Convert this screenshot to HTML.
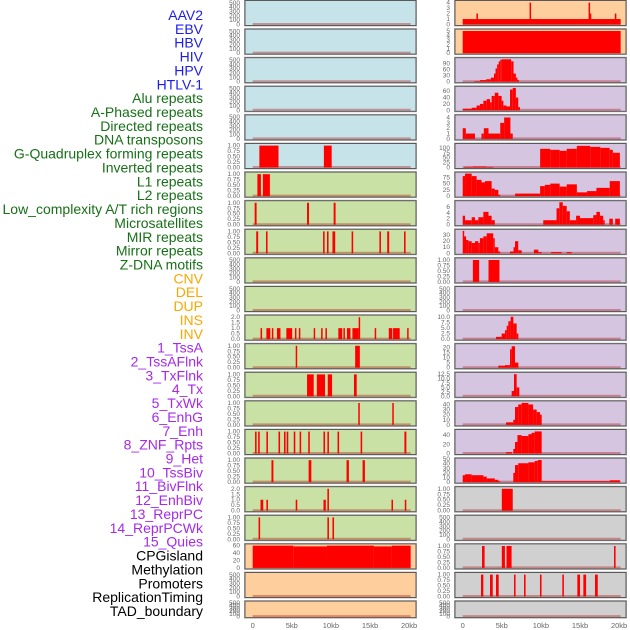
<!DOCTYPE html>
<html><head><meta charset="utf-8">
<style>
html,body{margin:0;padding:0;background:#fff;}
svg{display:block;}
</style></head>
<body>
<svg id="chart" width="630" height="630" viewBox="0 0 630 630" xmlns="http://www.w3.org/2000/svg" font-family="Liberation Sans, sans-serif"></svg>
<script>
// ---------- data ----------
const trackNames = ["AAV2","EBV","HBV","HIV","HPV","HTLV-1","Alu repeats","A-Phased repeats","Directed repeats","DNA transposons","G-Quadruplex forming repeats","Inverted repeats","L1 repeats","L2 repeats","Low_complexity A/T rich regions","Microsatellites","MIR repeats","Mirror repeats","Z-DNA motifs","CNV","DEL","DUP","INS","INV","1_TssA","2_TssAFlnk","3_TxFlnk","4_Tx","5_TxWk","6_EnhG","7_Enh","8_ZNF_Rpts","9_Het","10_TssBiv","11_BivFlnk","12_EnhBiv","13_ReprPC","14_ReprPCWk","15_Quies","CPGisland","Methylation","Promoters","ReplicationTiming","TAD_boundary"];
const labelGroups = [6,13,5,15,5];
const groupColors = ["#1c1cf0","#177017","#ffa500","#a52aea","#000000"];
const xTicks = [0,5,10,15,20];
const xTickLabels = ["0","5kb","10kb","15kb","20kb"];
const dataEnd = 20.2;

// tick sets
const tEmpty = [0,100,200,300,400,500];
const tUnit = [0,0.25,0.5,0.75,1];
const tTwo = [0,0.5,1,1.5,2];

// segments [start_kb, end_kb, value]
const segHTLV = [[0.85,3.3,1],[9.1,10.1,1]];
const segAlu = [[0.6,1.05,1],[1.3,2.2,1]];
const segAPhased = [[0.25,0.5,1],[6.95,7.2,1],[10.35,10.6,1]];
const segDirected = [[0.45,0.7,1],[1.7,1.9,1],[9.0,9.2,1],[9.5,9.7,1],[10.2,10.55,1],[12.65,12.85,1],[16.2,16.4,1],[17.2,17.45,1],[19.35,19.55,1]];
const segInverted = [[1.0,1.2,1],[1.75,2.25,1],[2.45,2.6,1],[3.1,3.55,1],[4.3,5.05,1],[5.4,5.55,1],[5.9,6.05,1],[7.8,7.95,1],[8.75,8.9,1],[9.3,9.45,1],[10.95,11.45,1],[11.6,11.75,1],[12.05,12.5,1],[12.75,13.55,1],[13.55,13.7,2],[15.6,15.75,1],[17.4,17.85,1],[17.95,18.8,1],[19.75,19.9,1]];
const segL1 = [[5.5,5.65,1],[13.1,13.7,1]];
const segL2 = [[6.95,7.8,1],[8.2,9.25,1],[9.6,10.15,1],[12.95,13.3,1]];
const segLowComp = [[13.5,13.65,1],[17.85,18.0,1]];
const segMicro = [[0.3,0.5,1],[0.7,0.9,1],[1.75,1.95,1],[3.3,3.5,1],[4.0,4.2,1],[4.35,4.55,1],[5.25,5.45,1],[6.0,6.2,1],[7.1,7.3,1],[9.05,9.25,1],[9.55,9.75,1],[10.85,11.05,1],[13.8,14.0,1],[19.4,19.65,1]];
const segMIR = [[2.4,2.65,1],[7.15,7.5,1],[12.0,12.3,1],[14.05,14.35,1]];
const segMirror = [[1.0,1.35,1],[1.75,1.95,1],[5.5,5.7,1],[9.05,9.35,1],[9.55,9.75,2],[17.75,17.9,1],[19.45,19.6,1]];
const segZDNA = [[0.75,0.95,1],[9.55,9.75,1],[10.2,10.4,1]];
const segCNV = [[0,5.2,60],[5.2,9.5,58],[9.5,15.5,60],[15.5,17.8,58],[17.8,20.2,60]];
const segINS = [[0,20.2,1],[1.75,1.95,2],[8.55,8.7,4],[16.1,16.25,4],[16.25,16.4,2],[19.45,19.65,2]];
const segINV = [[0,20.2,5]];
const segTssA = [[1.5,2.2,3],[2.2,3.0,8],[3.0,3.6,12],[3.6,4.0,20],[4.0,4.2,40],[4.2,4.4,65],[4.4,4.6,85],[4.6,4.8,100],[4.8,5.0,108],[5.0,6.2,110],[6.2,6.5,100],[6.5,6.8,40],[6.8,7.0,20],[7.0,7.2,8]];
const segTssAFlnk = [[0,1.15,5],[1.15,1.78,8],[1.78,2.2,15],[2.2,2.64,20],[2.64,3.07,30],[3.07,3.5,35],[3.5,3.7,25],[3.7,4.1,45],[4.1,4.56,55],[4.56,4.98,45],[4.98,5.2,30],[5.2,5.6,15],[5.6,6.05,12],[6.05,6.4,65],[6.4,6.8,70],[6.8,7.1,40],[7.1,7.33,10]];
const segTxFlnk = [[0,0.4,2],[0.4,1.57,1],[2.4,2.7,1],[2.7,3.3,2],[3.3,4.8,1],[4.8,5.3,3],[5.3,6.1,4],[6.1,6.4,1]];
const segTx = [[0.2,1.3,3],[1.3,3.0,5],[3.0,3.9,3],[9.9,11.2,95],[11.2,12.4,90],[12.4,13.3,85],[13.3,14.6,95],[14.6,16.3,110],[16.3,17.6,105],[17.6,18.8,100],[18.8,19.2,90],[19.2,20.1,75]];
const segTxWk = [[0,0.3,80],[0.3,1.15,90],[1.15,1.78,80],[1.78,2.4,65],[2.4,2.85,55],[2.85,3.7,60],[3.7,4.1,30],[4.1,4.56,25],[4.56,4.8,5],[6.7,9.9,10],[9.9,10.5,40],[10.5,11.2,45],[11.2,12.4,50],[12.4,13.3,38],[13.3,14.6,47],[14.6,15.9,15],[15.9,17.1,20],[17.1,18.8,33],[18.8,20.1,60]];
const segEnhG = [[0,0.3,3],[0.3,1.15,1.5],[1.15,1.57,2.5],[1.57,2.0,1.5],[2.0,2.64,2.5],[2.64,3.3,4.3],[3.3,3.7,3],[3.7,4.1,1.5],[10.3,12.0,1.5],[12.0,12.36,5.5],[12.36,12.8,7.5],[12.8,13.3,6.3],[13.3,13.7,4.5],[13.7,14.5,1.5],[14.5,15.0,3],[15.0,16.7,2.2],[16.7,17.1,3.2],[17.1,17.55,4.3],[17.55,17.97,3],[17.97,18.1,1.5],[18.75,19.2,2],[19.5,20.1,2]];
const segEnh = [[0,0.13,37],[0.13,0.43,28],[0.43,0.72,22],[0.72,1.15,20],[1.15,1.57,17],[1.57,2.0,20],[2.0,2.2,17],[2.2,2.64,25],[2.64,3.07,28],[3.07,3.9,33],[3.9,4.1,25],[4.1,4.56,10],[4.56,4.8,3],[6.05,6.5,3],[6.5,6.69,10],[6.69,7.1,20],[7.1,7.54,5],[9.1,9.67,6],[9.67,10.1,2],[11.3,12.65,2],[13.3,13.93,2]];
const segZNF = [[1.3,2.1,1],[3.3,4.7,1]];
const segTssBiv = [[4.26,4.98,1],[4.98,5.41,2.5],[5.41,5.63,4],[5.63,5.84,6],[5.84,6.13,8],[6.13,6.48,10],[6.48,6.9,7],[6.9,7.12,2.5]];
const segBivFlnk = [[4.56,5.41,2],[5.41,6.05,2.5],[6.05,6.26,18],[6.26,6.69,21],[6.69,7.12,5]];
const segEnhBiv = [[6.26,6.56,3],[6.56,6.9,12.5],[6.9,7.24,5]];
const segReprPC = [[5.54,6.47,5],[6.47,6.69,10],[6.69,7.1,35],[7.1,7.54,40],[7.54,8.4,43],[8.4,9.0,40],[9.0,9.46,30],[9.46,9.88,25],[9.88,10.1,20]];
const segReprPCWk = [[5.54,6.3,3],[6.47,6.69,10],[6.69,7.0,25],[7.0,7.54,40],[7.54,8.4,38],[8.4,8.8,42],[8.8,9.2,45],[9.2,10.1,48]];
const segQuies = [[0,0.3,15],[0.3,1.15,17],[1.15,2.64,15],[2.64,3.07,12],[3.07,4.1,8],[4.1,4.56,5],[4.56,4.8,2],[6.47,6.69,20],[6.69,7.1,37],[7.1,8.4,41],[8.4,9.2,43],[9.2,9.6,46],[9.6,10.1,48],[10.1,18.8,2],[18.8,20.1,4]];
const segCPG = [[5.0,6.4,1]];
const segPromoters = [[2.47,2.8,1],[5.0,5.4,1],[5.6,6.25,1],[19.35,19.55,1]];
const segReplication = [[2.34,2.64,1],[3.49,3.84,1],[4.26,4.6,1],[6.56,6.76,1],[7.84,8.04,1],[9.88,10.08,1],[12.74,12.94,1],[14.66,15.0,1],[15.43,15.78,1],[16.92,17.27,1]];

// per-panel: [column, row, background, ticks, decimals, ymax, segments]
const blue="#c7e3ea", green="#c9e1a4", orange="#fecf9d", purple="#d5c5e1", gray="#d0d0d0";
const panels = [
 ["L",0,blue,tEmpty,0,530,[]],["L",1,blue,tEmpty,0,530,[]],["L",2,blue,tEmpty,0,530,[]],["L",3,blue,tEmpty,0,530,[]],["L",4,blue,tEmpty,0,530,[]],
 ["L",5,blue,tUnit,2,1.05,segHTLV],
 ["L",6,green,tUnit,2,1.05,segAlu],["L",7,green,tUnit,2,1.05,segAPhased],["L",8,green,tUnit,2,1.05,segDirected],
 ["L",9,green,tEmpty,0,530,[]],["L",10,green,tEmpty,0,530,[]],
 ["L",11,green,tTwo,1,2.1,segInverted],["L",12,green,tUnit,2,1.05,segL1],["L",13,green,tUnit,2,1.05,segL2],
 ["L",14,green,tUnit,2,1.05,segLowComp],["L",15,green,tUnit,2,1.05,segMicro],["L",16,green,tUnit,2,1.05,segMIR],
 ["L",17,green,tTwo,1,2.1,segMirror],["L",18,green,tUnit,2,1.05,segZDNA],
 ["L",19,orange,[0,20,40,60],0,62,segCNV],["L",20,orange,tEmpty,0,530,[]],["L",21,orange,tEmpty,0,530,[]],
 ["R",0,orange,[0,1,2,3,4],0,4.2,segINS],["R",1,orange,[0,1,2,3,4,5],0,5.2,segINV],
 ["R",2,purple,[0,30,60,90],0,113,segTssA],["R",3,purple,[0,20,40,60],0,72,segTssAFlnk],
 ["R",4,purple,[0,1,2,3,4],0,4.3,segTxFlnk],["R",5,purple,[0,25,50,75,100],0,117,segTx],
 ["R",6,purple,[0,25,50,75],0,92,segTxWk],["R",7,purple,[0,2,4,6],0,7.7,segEnhG],
 ["R",8,purple,[0,10,20,30],0,38,segEnh],["R",9,purple,tUnit,2,1.05,segZNF],
 ["R",10,purple,tEmpty,0,530,[]],["R",11,purple,[0,2.5,5,7.5,10],1,10.3,segTssBiv],
 ["R",12,purple,[0,5,10,15,20],0,22.5,segBivFlnk],["R",13,purple,[0,2.5,5,7.5,10,12.5],1,13,segEnhBiv],
 ["R",14,purple,[0,10,20,30,40],0,45,segReprPC],["R",15,purple,[0,20,40],0,50,segReprPCWk],
 ["R",16,purple,[0,10,20,30,40,50],0,50,segQuies],
 ["R",17,gray,tUnit,2,1.05,segCPG],["R",18,gray,tEmpty,0,530,[]],["R",19,gray,tUnit,2,1.05,segPromoters],
 ["R",20,gray,tUnit,2,1.05,segReplication],["R",21,gray,tEmpty,0,530,[]]
];

// ---------- drawing ----------
const NS="http://www.w3.org/2000/svg";
const svg=document.getElementById("chart");
function mk(tag,attrs,parent){const e=document.createElementNS(NS,tag);for(const k in attrs)e.setAttribute(k,attrs[k]);(parent||svg).appendChild(e);return e;}

const colX={L:245,R:455}, colZero={L:252.7,R:462.7}, panelW=171, pxPerKb=7.82;
const rowStep=28.6, panelH=25, lastH=16.5;
function xScale(col,kb){return colZero[col]+kb*pxPerKb;}
function rowTop(r){return r*rowStep+0.5;}
function rowH(r){return r===21?lastH:panelH;}
function yScale(r,v,ymax){const b=rowTop(r)+rowH(r)-1;return b-(v/ymax)*(rowH(r)-2);}

// labels
let li=0;
labelGroups.forEach((n,g)=>{for(let k=0;k<n;k++){
  const t=mk("text",{x:203,y:20+li*13.86,"text-anchor":"end","font-size":"14",fill:groupColors[g]});
  t.textContent=trackNames[li];
  
  
  li++;}});

panels.forEach((p,i)=>{
  const [col,row,bg,ticks,dec,ymax,segs]=p;
  const g=mk("g",{});
  
  
  const top=rowTop(row), h=rowH(row);
  mk("rect",{x:colX[col]-0.5,y:top-0.5,width:panelW+1,height:h+1,fill:"none",stroke:"#bbb","stroke-width":1},g);
  const bgr=mk("rect",{x:colX[col],y:top,width:panelW,height:h,fill:bg,stroke:"#5a5a5a","stroke-width":1},g);
  
  
  const bl=mk("line",{x1:xScale(col,0),x2:xScale(col,dataEnd),y1:top+h-1.5,y2:top+h-1.5,stroke:"rgba(170,0,0,0.35)","stroke-width":2},g);
  
  
  segs.forEach(s=>{
    const x1=xScale(col,s[0]), x2=xScale(col,s[1]);
    const y=yScale(row,s[2],ymax), yb=yScale(row,0,ymax);
    const b=mk("rect",{x:x1,y:y,width:Math.max(1.5,x2-x1),height:Math.max(0,yb-y),fill:"#ff0000"},g);
    
    
  });
  ticks.forEach(t=>{
    const tl=mk("text",{x:colX[col]-5,y:yScale(row,t,ymax)+2,"text-anchor":"end","font-size":"6.5",fill:"#666"},g);
    tl.textContent=t.toFixed(dec);
    
    
  });
});

// x axes
["L","R"].forEach(col=>{
  xTicks.forEach((t,k)=>{
    const tl=mk("text",{x:xScale(col,t),y:628,"text-anchor":"middle","font-size":"7.5",fill:"#666"});
    tl.textContent=xTickLabels[k];
    
    
  });
});
</script>
</body></html>
